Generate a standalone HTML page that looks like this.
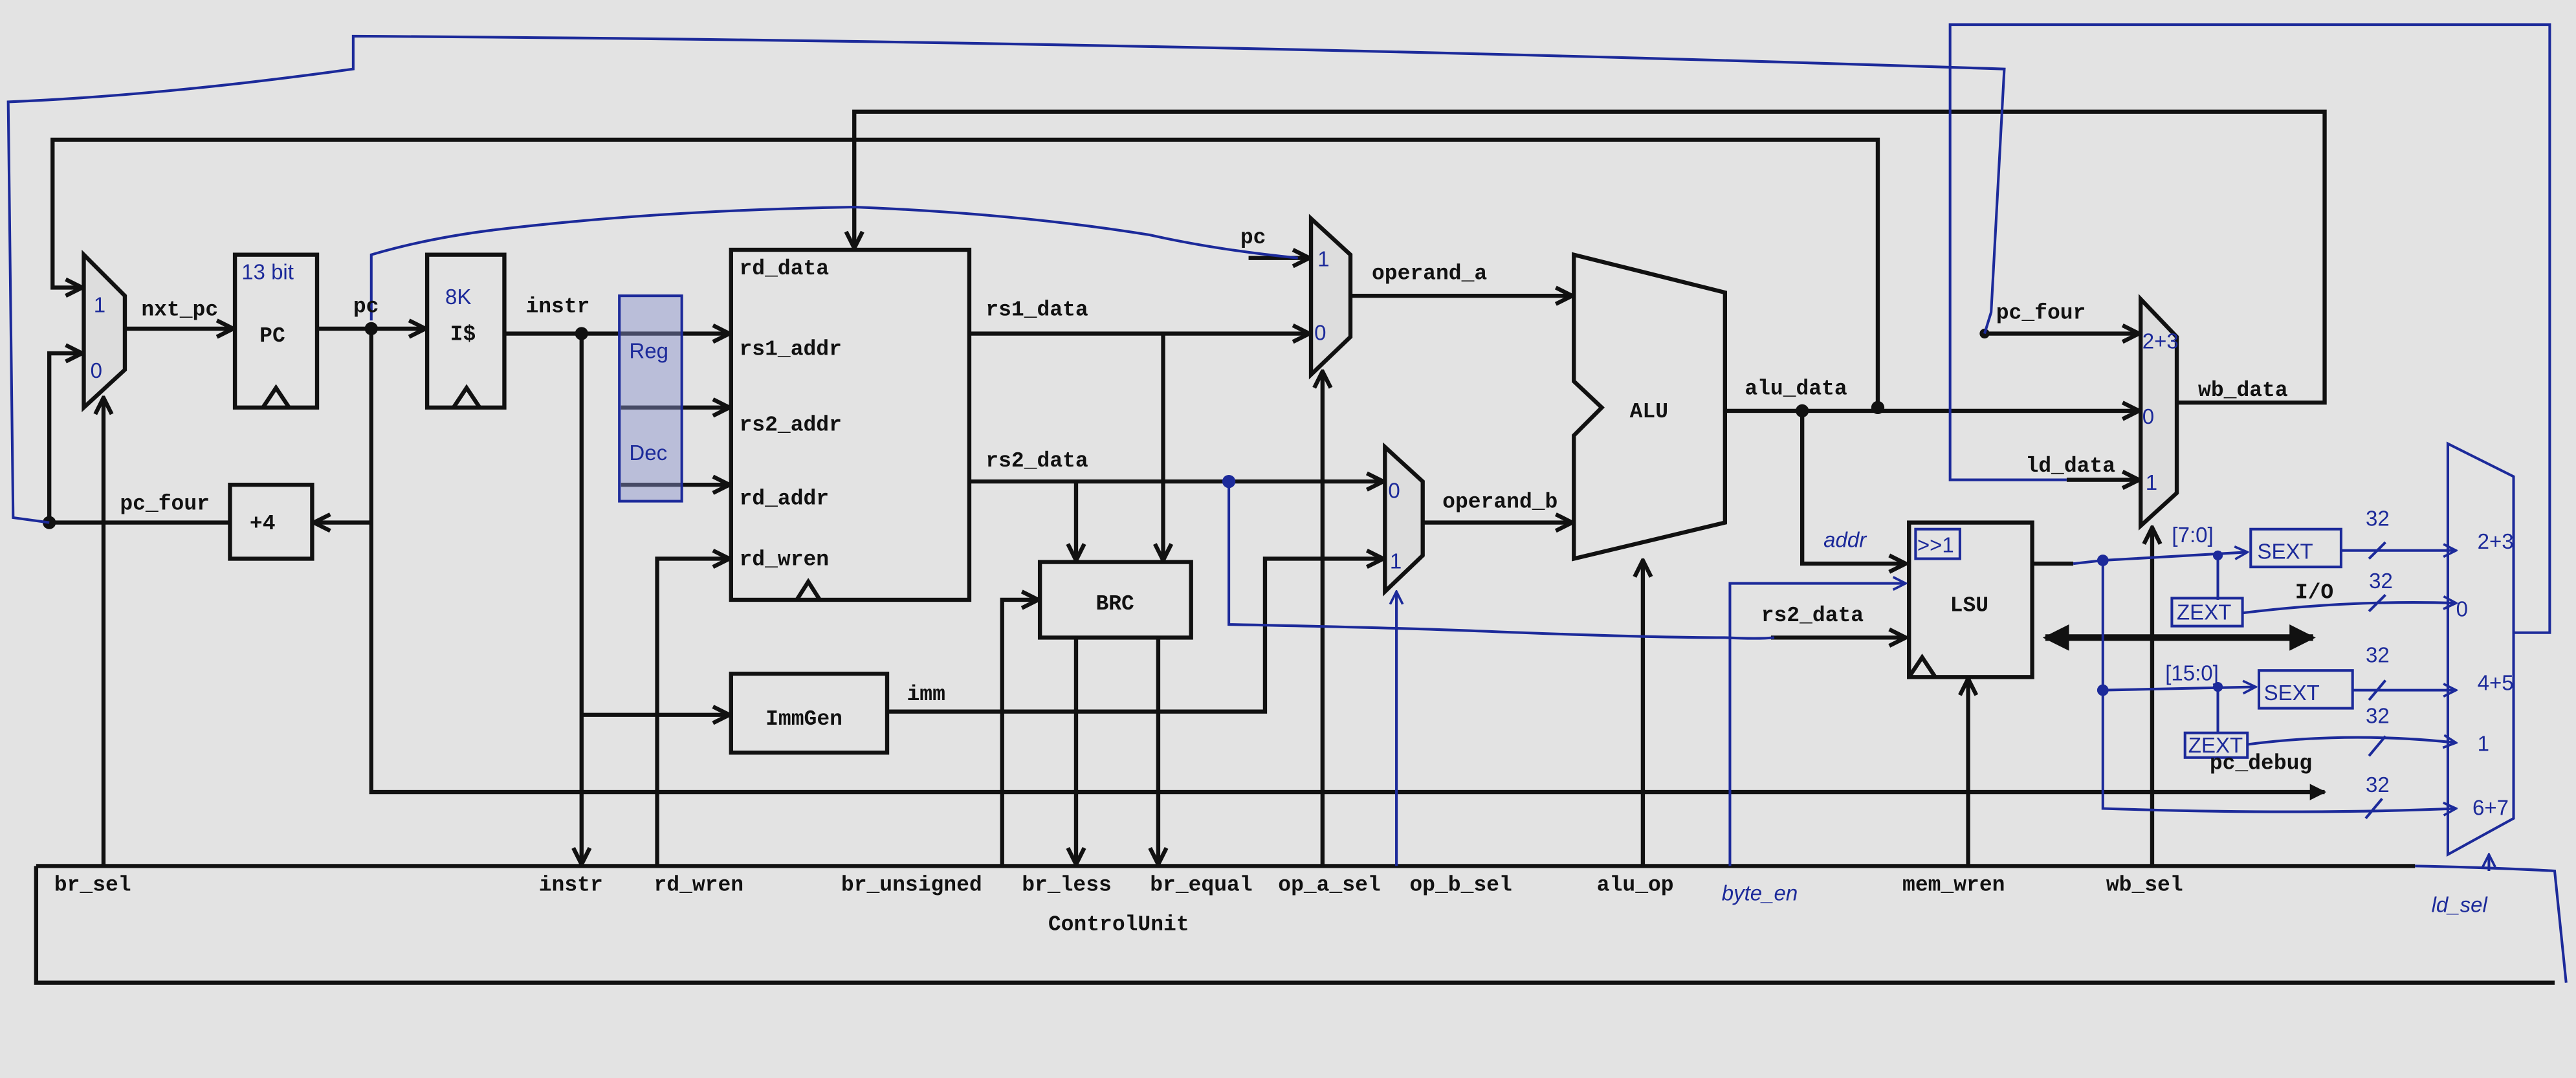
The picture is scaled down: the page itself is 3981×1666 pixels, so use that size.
<!DOCTYPE html>
<html><head><meta charset="utf-8"><style>
html,body{margin:0;padding:0;background:#e3e3e3;}
svg{display:block;}
text{font-family:"Liberation Mono",monospace;font-weight:bold;fill:#111;font-size:13px;}
.b{fill:#1c2a9a;font-family:"Liberation Sans",sans-serif;font-weight:normal;}
</style></head><body>
<svg width="3981" height="1666" viewBox="0 0 1568 656" preserveAspectRatio="none" xmlns="http://www.w3.org/2000/svg">
<defs>
<marker id="a" viewBox="0 0 10 10" refX="9" refY="5" markerWidth="5" markerHeight="5" orient="auto"><path d="M1,1 L9,5 L1,9" fill="none" stroke="#111" stroke-width="2"/></marker>
<marker id="ab" viewBox="0 0 10 10" refX="9" refY="5" markerWidth="6" markerHeight="6" orient="auto"><path d="M1,1 L9,5 L1,9" fill="none" stroke="#1c2a9a" stroke-width="1.5"/></marker>
<marker id="t" viewBox="0 0 10 10" refX="9" refY="5" markerWidth="4" markerHeight="4" orient="auto-start-reverse"><path d="M0,0 L10,5 L0,10 z" fill="#111"/></marker>
</defs>
<rect width="1568" height="656" fill="#e3e3e3"/>
<g fill="none" stroke="#111" stroke-width="2.5">
<path d="M22,527 H1470 M22,527 V598 H1555"/>
<polygon points="51,155 76,180 76,225 51,248" fill="#ddd"/>
<path d="M1143,248 V85 H32 V175 H50" marker-end="url(#a)"/>
<path d="M140,318 H30 V215 H50" marker-end="url(#a)"/>
<path d="M63,527 V242" marker-end="url(#a)"/>
<path d="M76,200 H142" marker-end="url(#a)"/>
<rect x="143" y="155" width="50" height="93"/>
<path d="M160,248 L168,236 L176,248"/>
<path d="M193,200 H259" marker-end="url(#a)"/>
<rect x="260" y="155" width="47" height="93"/>
<path d="M276,248 L284,236 L292,248"/>
<path d="M226,200 V482 H1415" marker-end="url(#t)"/>
<path d="M226,318 H191" marker-end="url(#a)"/>
<rect x="140" y="295" width="50" height="45"/>
<path d="M307,203 H444" marker-end="url(#a)"/>
<path d="M354,203 V526" marker-end="url(#a)"/>
<path d="M354,435 H444" marker-end="url(#a)"/>
<path d="M378,248 H444" marker-end="url(#a)"/>
<path d="M378,295 H444" marker-end="url(#a)"/>
<rect x="445" y="152" width="145" height="213"/>
<path d="M485,365 L492,354 L499,365"/>
<path d="M400,527 V340 H444" marker-end="url(#a)"/>
<path d="M1325,245 H1415 V68 H520 V151" marker-end="url(#a)"/>
<path d="M590,203 H797" marker-end="url(#a)"/>
<path d="M708,203 V341" marker-end="url(#a)"/>
<path d="M590,293 H842" marker-end="url(#a)"/>
<path d="M655,293 V341" marker-end="url(#a)"/>
<rect x="633" y="342" width="92" height="46"/>
<path d="M610,527 V365 H632" marker-end="url(#a)"/>
<path d="M655,388 V526" marker-end="url(#a)"/>
<path d="M705,388 V526" marker-end="url(#a)"/>
<rect x="445" y="410" width="95" height="48"/>
<path d="M540,433 H770 V340 H842" marker-end="url(#a)"/>
<polygon points="798,133 822,155 822,205 798,228" fill="#ddd"/>
<path d="M760,157 H797" marker-end="url(#a)"/>
<path d="M805,527 V226" marker-end="url(#a)"/>
<path d="M822,180 H957" marker-end="url(#a)"/>
<polygon points="843,272 866,293 866,338 843,360" fill="#ddd"/>
<path d="M866,318 H957" marker-end="url(#a)"/>
<polygon points="958,155 1050,178 1050,318 958,340 958,265 975,248 958,232"/>
<path d="M1000,527 V341" marker-end="url(#a)"/>
<path d="M1050,250 H1302" marker-end="url(#a)"/>
<path d="M1097,250 V343 H1160" marker-end="url(#a)"/>
<polygon points="1303,182 1325,205 1325,300 1303,320" fill="#ddd"/>
<path d="M1208,203 H1302" marker-end="url(#a)"/>
<path d="M1258,292 H1302" marker-end="url(#a)"/>
<path d="M1310,527 V321" marker-end="url(#a)"/>
<rect x="1162" y="318" width="75" height="94"/>
<path d="M1162,412 L1170,400 L1178,412"/>
<path d="M1198,527 V413" marker-end="url(#a)"/>
<path d="M1078,388 H1160" marker-end="url(#a)"/>
<path d="M1245,388 H1408" stroke-width="4" marker-start="url(#t)" marker-end="url(#t)"/>
<path d="M1237,343 H1262"/>
</g>
<g fill="#111">
<circle cx="226" cy="200" r="4"/><circle cx="354" cy="203" r="4"/><circle cx="30" cy="318" r="4"/>
<circle cx="1143" cy="248" r="4"/><circle cx="1097" cy="250" r="4"/><circle cx="1208" cy="203" r="3"/>
</g>
<g fill="none" stroke="#1c2a9a" stroke-width="1.6">
<rect x="377" y="180" width="38" height="125" fill="#8890cc" fill-opacity="0.45"/>
<path d="M226,195 V155 Q260,145 300,140 Q400,128 520,126 Q620,130 700,143 Q740,152 790,157"/>
<path d="M30,318 L8,315 L5,62 Q100,58 215,42 V22 Q700,25 1220,42 L1212,190 L1208,203"/>
<path d="M748,293 V380 Q850,382 900,384 Q1000,388 1050,388 Q1070,389 1080,388"/>
<path d="M850,527 V360" marker-end="url(#ab)"/>
<path d="M1053,527 V355 H1160" marker-end="url(#ab)"/>
<rect x="1166" y="322" width="27" height="18"/>
<path d="M1262,343 L1280,341 L1368,336" marker-end="url(#ab)"/>
<rect x="1370" y="322" width="55" height="23"/>
<path d="M1425,335 H1495" marker-end="url(#ab)"/>
<path d="M1350,338 V365"/>
<rect x="1322" y="364" width="43" height="17"/>
<path d="M1365,373 Q1430,365 1495,367" marker-end="url(#ab)"/>
<path d="M1280,341 V492 Q1400,496 1495,492" marker-end="url(#ab)"/>
<path d="M1280,420 L1373,418" marker-end="url(#ab)"/>
<rect x="1375" y="408" width="57" height="23"/>
<path d="M1432,420 H1495" marker-end="url(#ab)"/>
<path d="M1350,418 V446"/>
<rect x="1330" y="446" width="38" height="15"/>
<path d="M1368,453 Q1430,445 1495,452" marker-end="url(#ab)"/>
<path d="M1442,340 L1452,330 M1442,372 L1452,362 M1442,426 L1452,414 M1442,460 L1452,448 M1440,498 L1450,486"/>
<polygon points="1490,270 1530,290 1530,498 1490,520"/>
<path d="M1515,530 V520" marker-end="url(#ab)"/>
<path d="M1470,527 Q1520,528 1555,530 L1562,598"/>
<path d="M1530,385 H1552 V15 H1187 V292 H1258"/>
</g>
<g fill="#1c2a9a"><circle cx="748" cy="293" r="4"/><circle cx="1280" cy="341" r="3.5"/><circle cx="1280" cy="420" r="3.5"/><circle cx="1350" cy="338" r="3"/><circle cx="1350" cy="418" r="3"/></g>
<text x="86" y="192">nxt_pc</text>
<text x="158" y="208">PC</text>
<text x="215" y="190">pc</text>
<text x="274" y="207">I$</text>
<text x="320" y="190">instr</text>
<text x="152" y="322">+4</text>
<text x="73" y="310">pc_four</text>
<text x="450" y="167">rd_data</text>
<text x="450" y="216">rs1_addr</text>
<text x="450" y="262">rs2_addr</text>
<text x="450" y="307">rd_addr</text>
<text x="450" y="344">rd_wren</text>
<text x="600" y="192">rs1_data</text>
<text x="600" y="284">rs2_data</text>
<text x="667" y="371">BRC</text>
<text x="466" y="441">ImmGen</text>
<text x="552" y="426">imm</text>
<text x="755" y="148">pc</text>
<text x="835" y="170">operand_a</text>
<text x="878" y="309">operand_b</text>
<text x="992" y="254">ALU</text>
<text x="1062" y="240">alu_data</text>
<text x="1215" y="194">pc_four</text>
<text x="1233" y="287">ld_data</text>
<text x="1338" y="241">wb_data</text>
<text x="1187" y="372">LSU</text>
<text x="1072" y="378">rs2_data</text>
<text x="1397" y="364">I/O</text>
<text x="1345" y="468">pc_debug</text>
<text x="33" y="542">br_sel</text>
<text x="328" y="542">instr</text>
<text x="398" y="542">rd_wren</text>
<text x="512" y="542">br_unsigned</text>
<text x="622" y="542">br_less</text>
<text x="700" y="542">br_equal</text>
<text x="778" y="542">op_a_sel</text>
<text x="858" y="542">op_b_sel</text>
<text x="972" y="542">alu_op</text>
<text x="1158" y="542">mem_wren</text>
<text x="1282" y="542">wb_sel</text>
<text x="638" y="566">ControlUnit</text>
<g class="b">
<text class="b" x="57" y="190" font-size="16">1</text>
<text class="b" x="55" y="230" font-size="18">0</text>
<text class="b" x="147" y="170" font-size="13">13 bit</text>
<text class="b" x="271" y="185" font-size="18">8K</text>
<text class="b" x="383" y="218" font-size="11">Reg</text>
<text class="b" x="383" y="280" font-size="11">Dec</text>
<text class="b" x="802" y="162" font-size="14">1</text>
<text class="b" x="800" y="207" font-size="16">0</text>
<text class="b" x="845" y="303" font-size="16">0</text>
<text class="b" x="846" y="346" font-size="14">1</text>
<text class="b" x="1304" y="212" font-size="12">2+3</text>
<text class="b" x="1304" y="258" font-size="18">0</text>
<text class="b" x="1306" y="298" font-size="16">1</text>
<text class="b" x="1110" y="333" font-size="14" font-style="italic">addr</text>
<text class="b" x="1167" y="336" font-size="10">&gt;&gt;1</text>
<text class="b" x="1322" y="330" font-size="12">[7:0]</text>
<text class="b" x="1374" y="340" font-size="14">SEXT</text>
<text class="b" x="1325" y="377" font-size="10">ZEXT</text>
<text class="b" x="1318" y="414" font-size="12">[15:0]</text>
<text class="b" x="1378" y="426" font-size="14">SEXT</text>
<text class="b" x="1332" y="458" font-size="10">ZEXT</text>
<text class="b" x="1440" y="320" font-size="13">32</text>
<text class="b" x="1442" y="358" font-size="13">32</text>
<text class="b" x="1440" y="403" font-size="13">32</text>
<text class="b" x="1440" y="440" font-size="13">32</text>
<text class="b" x="1440" y="482" font-size="13">32</text>
<text class="b" x="1508" y="334" font-size="13">2+3</text>
<text class="b" x="1495" y="375" font-size="18">0</text>
<text class="b" x="1508" y="420" font-size="13">4+5</text>
<text class="b" x="1508" y="457" font-size="13">1</text>
<text class="b" x="1505" y="496" font-size="13">6+7</text>
<text class="b" x="1048" y="548" font-size="14" font-style="italic">byte_en</text>
<text class="b" x="1480" y="555" font-size="15" font-style="italic">ld_sel</text>
</g>
</svg>
</body></html>
